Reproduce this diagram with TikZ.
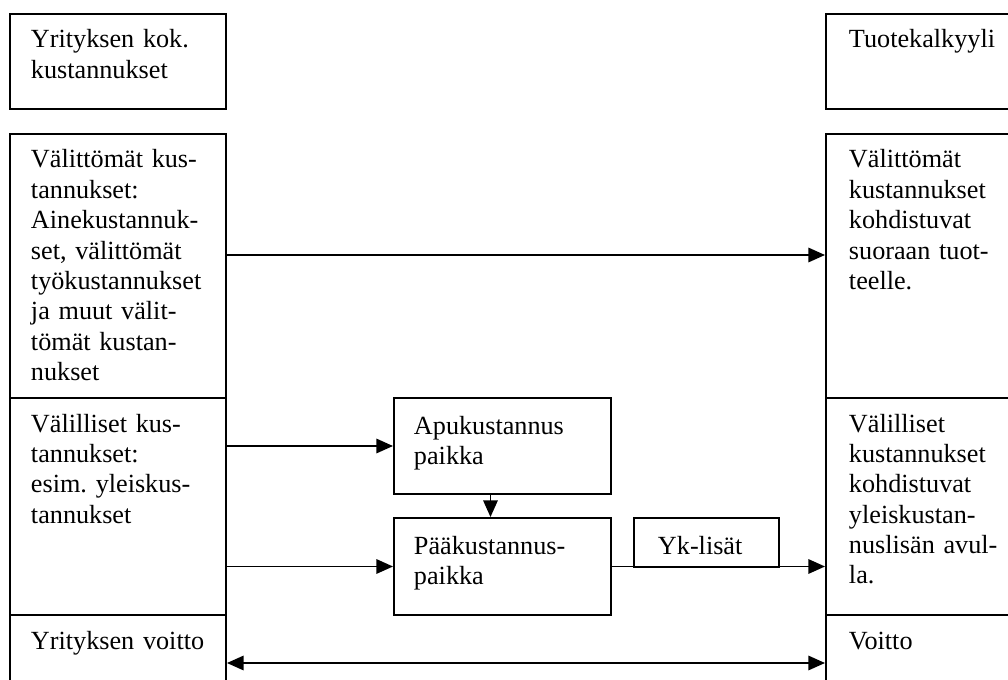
\documentclass[tikz,border=0pt]{standalone}
\usepackage{fontspec}
\setmainfont{Liberation Serif}
\usetikzlibrary{arrows.meta}
\newlength{\pxu}
\setlength{\pxu}{0.458pt}
\frenchspacing

\begin{document}
\begin{tikzpicture}[x=\pxu, y=-\pxu,
    kbox/.style={draw=black, line width=0.9pt, anchor=north west, inner xsep=21\pxu, inner ysep=0pt,
        align=left, text width=174\pxu, text height=34\pxu, font=\fontsize{12}{13.9}\selectfont},
    yhteys/.style={line width=0.8pt},
    >={Triangle[length=7.6pt, width=6.6pt]}]
    \useasboundingbox (0,0) rectangle (1008,679);
    \clip (0,0) rectangle (1008,679);

    \node[kbox, text depth=61\pxu] (K) at (9,13) {Yrityksen kok.\\kustannukset};
    \node[kbox, text depth=230\pxu] (V1) at (9,133) {V\"alitt\"om\"at kus-\\tannukset:\\Ainekustannuk-\\set, v\"alitt\"om\"at\\ty\"okustannukset\\ja muut v\"alit-\\t\"om\"at kustan-\\nukset};
    \node[kbox, text depth=183\pxu] (V2) at (9,397) {V\"alilliset kus-\\tannukset:\\esim. yleiskus-\\tannukset};
    \node[kbox, text depth=62\pxu] (Y) at (9,614) {Yrityksen voitto};

    \node[kbox, inner xsep=23\pxu, text depth=61\pxu] (T) at (825,13) {Tuotekalkyyli};
    \node[kbox, inner xsep=23\pxu, text depth=230\pxu] (S1) at (825,133) {V\"alitt\"om\"at\\kustannukset\\kohdistuvat\\suoraan tuot-\\teelle.};
    \node[kbox, inner xsep=23\pxu, text depth=183\pxu] (S2) at (825,397) {V\"alilliset\\kustannukset\\kohdistuvat\\yleiskustan-\\nuslis\"an avul-\\la.};
    \node[kbox, inner xsep=23\pxu, text depth=62\pxu] (W) at (825,614) {Voitto};

    \node[kbox, inner xsep=20\pxu, text width=177\pxu, text height=36\pxu, text depth=60\pxu] (A) at (393,397) {Apukustannus\\paikka};
    \node[kbox, inner xsep=20\pxu, text width=177\pxu, text height=36\pxu, text depth=61\pxu] (P) at (393,517) {P\"a\"akustannus-\\paikka};
    \node[kbox, inner xsep=24\pxu, text width=97\pxu, text height=36\pxu, text depth=13\pxu] (L) at (633,517) {Yk-lis\"at};

    \path [->, yhteys]([yshift=11\pxu]V1.east) edge ([yshift=11\pxu]S1.west);
    \path [->, yhteys](A.west -| V2.east) edge (A.west);
    \path [->, yhteys](P.west -| V2.east) edge (P.west);
    \path [->, yhteys]([xshift=-12\pxu]A.south) edge ([xshift=-12\pxu]P.north);
    \path [->, yhteys](P.east) edge (P.east -| S2.west);
    \path [<->, yhteys](Y.east) edge (W.west);

\end{tikzpicture}
\end{document}
